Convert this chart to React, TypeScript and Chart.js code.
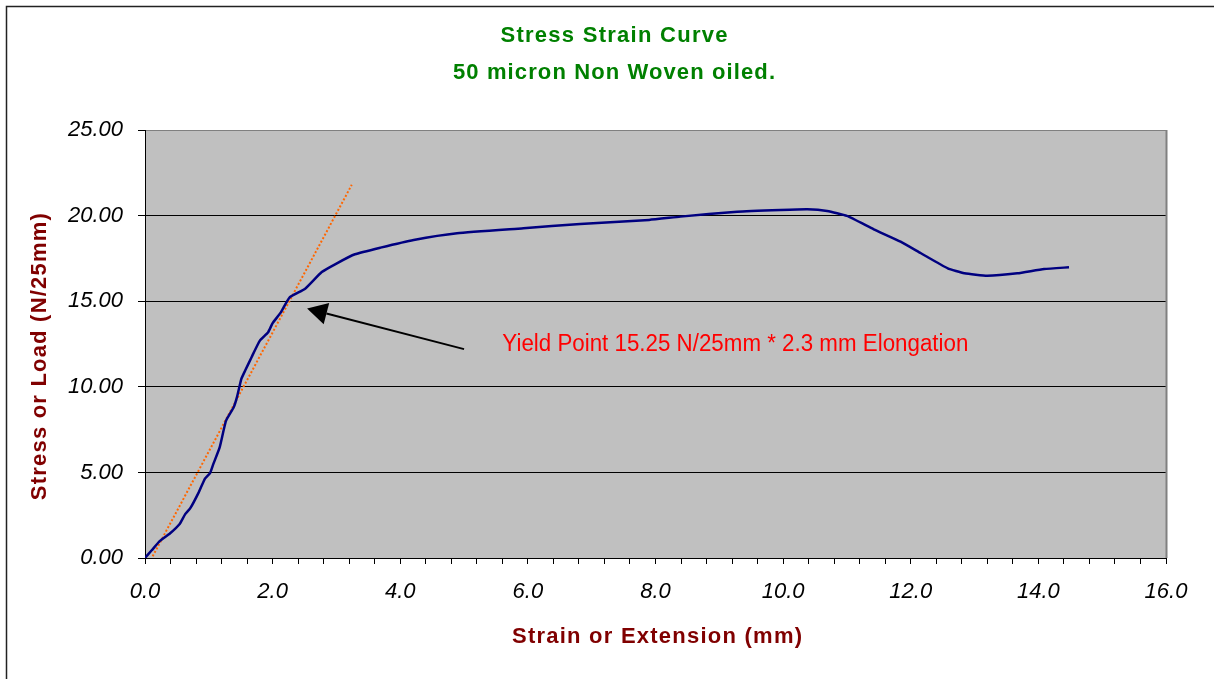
import React, { useEffect, useRef } from 'react';
import { Chart, registerables } from 'chart.js';

Chart.register(...registerables);

// ---- data ----
const strainMm = [
  0, 0.105, 0.235, 0.39, 0.54, 0.63, 0.71, 0.84, 0.94, 1.02, 1.07, 1.17, 1.27, 1.39, 1.44,
  1.51, 1.57, 1.67, 1.8, 1.93, 2.0, 2.12, 2.27, 2.51, 2.77, 3.0, 3.29, 3.69, 4.21, 4.89,
  5.93, 6.82, 7.9, 8.39, 9.28, 9.96, 10.38, 10.69, 11.0, 11.42, 11.84, 12.16, 12.58, 12.84,
  13.2, 13.67, 14.09, 14.48,
];
const stressN = [
  0, 0.45, 1.0, 1.43, 1.97, 2.56, 2.91, 3.82, 4.64, 4.96, 5.48, 6.46, 8.02, 8.8, 9.38,
  10.46, 10.95, 11.73, 12.7, 13.19, 13.72, 14.3, 15.24, 15.73, 16.7, 17.2, 17.74, 18.13, 18.58, 18.97,
  19.26, 19.51, 19.75, 19.94, 20.23, 20.33, 20.37, 20.27, 19.98, 19.2, 18.48, 17.8, 16.92, 16.63,
  16.49, 16.63, 16.88, 16.98,
];
const trendStrain = [0.12, 3.24];
const trendStress = [0.1, 21.8];

const titleLines = ['Stress Strain Curve', '50 micron Non Woven oiled.'];
const xTitle = 'Strain or Extension (mm)';
const yTitle = 'Stress or Load (N/25mm)';
const yieldLabel = 'Yield Point 15.25 N/25mm * 2.3 mm Elongation';
// arrow tip / tail and label anchor, in data units
const arrowTip = { x: 2.54, y: 14.57 };
const arrowTail = { x: 5.0, y: 12.2 };
const labelAnchor = { x: 5.6, y: 12.57 };

const xMin = 0, xMax = 16, xStep = 0.4;
const yMin = 0, yMax = 25, yStep = 5;

const FONT = '"Liberation Sans", Arial, sans-serif';

function fitText(
  ctx: CanvasRenderingContext2D,
  text: string,
  left: number,
  capCenterY: number,
  size: number,
  weight: string,
  color: string,
  target: number
) {
  ctx.font = `${weight} ${size}px ${FONT}`;
  (ctx as any).letterSpacing = '0px';
  const w = ctx.measureText(text).width;
  ctx.fillStyle = color;
  ctx.textAlign = 'left';
  ctx.textBaseline = 'alphabetic';
  const y = capCenterY + size * 0.358;
  if (w < target && text.length > 1) {
    const ls = (target - w) / (text.length - 1);
    (ctx as any).letterSpacing = `${ls}px`;
    ctx.fillText(text, left, y);
    (ctx as any).letterSpacing = '0px';
  } else {
    ctx.fillText(text, left, y, target);
  }
}

const decor = {
  id: 'decor',
  beforeDraw(chart: any) {
    const { ctx, chartArea: a } = chart;
    ctx.save();
    ctx.fillStyle = '#ffffff';
    ctx.fillRect(0, 0, chart.width, chart.height);
    ctx.fillStyle = '#C0C0C0';
    ctx.fillRect(a.left, a.top, a.right - a.left, a.bottom - a.top);
    ctx.restore();
  },
  afterDraw(chart: any) {
    const { ctx, chartArea: a } = chart;
    const xs = chart.scales.x;
    const ys = chart.scales.y;
    ctx.save();
    // outer frame
    ctx.strokeStyle = '#222';
    ctx.lineWidth = 1.5;
    ctx.beginPath();
    ctx.moveTo(6.5, chart.height + 2);
    ctx.lineTo(6.5, 6.5);
    ctx.lineTo(chart.width + 2, 6.5);
    ctx.stroke();
    // plot area right border
    ctx.strokeStyle = '#808080';
    ctx.lineWidth = 2;
    ctx.beginPath();
    ctx.moveTo(a.right + 0.5, a.top);
    ctx.lineTo(a.right + 0.5, a.bottom);
    ctx.stroke();

    // titles
    fitText(ctx, titleLines[0], 614 - 113.5, 34.5, 22, 'bold', '#008000', 227);
    fitText(ctx, titleLines[1], 614 - 161, 71, 22, 'bold', '#008000', 322);
    fitText(ctx, xTitle, 512, 635.5, 22, 'bold', '#800000', 290);
    ctx.save();
    ctx.translate(38.3, 356.7);
    ctx.rotate(-Math.PI / 2);
    fitText(ctx, yTitle, -143.5, 0, 22, 'bold', '#800000', 287);
    ctx.restore();

    // annotation arrow
    const tx = xs.getPixelForValue(arrowTip.x);
    const ty = ys.getPixelForValue(arrowTip.y);
    const sx = xs.getPixelForValue(arrowTail.x);
    const sy = ys.getPixelForValue(arrowTail.y);
    const ang = Math.atan2(ty - sy, tx - sx);
    const headLen = 20, headHalf = 11;
    const bx = tx - headLen * Math.cos(ang);
    const by = ty - headLen * Math.sin(ang);
    ctx.strokeStyle = '#000';
    ctx.lineWidth = 2;
    ctx.beginPath();
    ctx.moveTo(sx, sy);
    ctx.lineTo(bx, by);
    ctx.stroke();
    ctx.fillStyle = '#000';
    ctx.beginPath();
    ctx.moveTo(tx, ty);
    ctx.lineTo(bx + headHalf * Math.sin(ang), by - headHalf * Math.cos(ang));
    ctx.lineTo(bx - headHalf * Math.sin(ang), by + headHalf * Math.cos(ang));
    ctx.closePath();
    ctx.fill();

    fitText(
      ctx,
      yieldLabel,
      xs.getPixelForValue(labelAnchor.x),
      ys.getPixelForValue(labelAnchor.y),
      23,
      'normal',
      '#FF0000',
      466
    );
    ctx.restore();
  },
};

export default function App() {
  const ref = useRef<HTMLCanvasElement | null>(null);

  useEffect(() => {
    document.body.style.margin = '0';
    const canvas = ref.current!;
    const chart = new Chart(canvas, {
      type: 'line',
      data: {
        datasets: [
          {
            data: strainMm.map((x, i) => ({ x, y: stressN[i] })),
            borderColor: '#000080',
            borderWidth: 2.5,
            pointRadius: 0,
            tension: 0.15,
            fill: false,
          },
          {
            data: trendStrain.map((x, i) => ({ x, y: trendStress[i] })),
            borderColor: '#FF6600',
            borderWidth: 2,
            borderDash: [2, 2],
            pointRadius: 0,
            tension: 0,
            fill: false,
          },
        ],
      },
      options: {
        animation: false,
        responsive: false,
        devicePixelRatio: 1,
        layout: { padding: { left: 0, top: 130, right: 48, bottom: 0 } },
        plugins: {
          legend: { display: false },
          tooltip: { enabled: false },
          title: { display: false },
        },
        scales: {
          x: {
            type: 'linear',
            min: xMin,
            max: xMax,
            afterFit: (s: any) => {
              s.height = 121;
            },
            ticks: {
              stepSize: xStep,
              autoSkip: false,
              maxRotation: 0,
              padding: 15,
              color: '#000',
              font: { family: FONT, size: 22, style: 'italic' },
              callback: (v: any) => {
                const n = Number(v);
                return Math.abs(n / 2 - Math.round(n / 2)) < 1e-6 ? n.toFixed(1) : '';
              },
            },
            grid: {
              drawOnChartArea: false,
              drawTicks: true,
              tickLength: 6,
              tickColor: '#000',
              color: '#000',
            },
            border: { display: true, color: '#000', width: 1 },
          },
          y: {
            type: 'linear',
            min: yMin,
            max: yMax,
            afterFit: (s: any) => {
              s.width = 145;
            },
            ticks: {
              stepSize: yStep,
              padding: 15,
              color: '#000',
              font: { family: FONT, size: 22, style: 'italic' },
              callback: (v: any) => Number(v).toFixed(2),
            },
            grid: {
              drawTicks: true,
              tickLength: 7,
              tickColor: '#000',
              color: (c: any) => (c.tick && c.tick.value === yMax ? '#808080' : '#000'),
              lineWidth: 1,
            },
            border: { display: true, color: '#000', width: 1 },
          },
        },
      },
      plugins: [decor],
    } as any);
    return () => chart.destroy();
  }, []);

  return (
    <div style={{ position: 'fixed', left: 0, top: 0, width: 1214, height: 679 }}>
      <canvas ref={ref} width={1214} height={679} style={{ display: 'block' }} />
    </div>
  );
}
